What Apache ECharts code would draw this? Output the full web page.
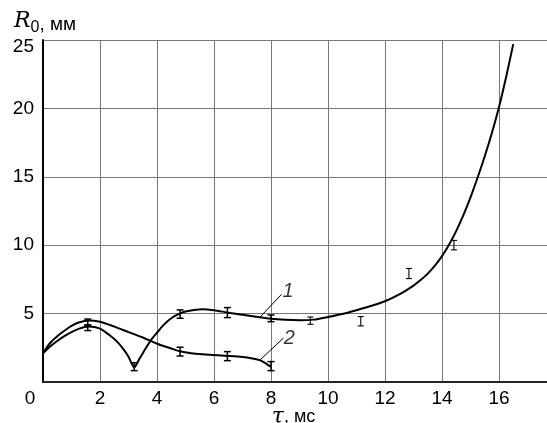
<!DOCTYPE html>
<html><head><meta charset="utf-8">
<script src="https://cdn.jsdelivr.net/npm/echarts@6/dist/echarts.min.js"></script>
<style>html,body{margin:0;padding:0;background:#fff}#c{width:547px;height:423px}</style>
</head><body><div id="c"></div>
<script>
// x ticks (ms) and y ticks (mm)
const xTicks = [0, 2, 4, 6, 8, 10, 12, 14, 16];
const yTicks = [5, 10, 15, 20, 25];
// curve 1 (dips at 3.2 ms, then rises to 25 mm)
const curve1 = [[0,2.1],[0.25,2.6],[0.5,3.0],[0.75,3.35],[1.0,3.65],[1.25,3.88],[1.6,4.05],[2.0,3.9],[2.35,3.4],[2.6,2.95],[2.82,2.4],[3.0,1.85],[3.2,1.07],
 [3.4,1.75],[3.6,2.45],[3.8,3.1],[4.0,3.6],[4.2,4.1],[4.4,4.5],[4.6,4.8],[4.8,5.0],[5.0,5.15],[5.3,5.27],[5.6,5.32],[6.0,5.25],[6.5,5.07],[7.0,4.92],[7.6,4.73],[8.0,4.62],
 [8.5,4.55],[9.0,4.52],[9.5,4.56],[10.0,4.75],[10.5,4.97],[11.0,5.25],[11.5,5.55],[12.0,5.9],[12.5,6.4],[13.0,7.05],[13.25,7.45],[13.5,7.92],[13.75,8.5],[14.0,9.2],
 [14.25,10.05],[14.5,11.05],[14.75,12.2],[15.0,13.5],[15.25,14.95],[15.5,16.5],[15.75,18.2],[16.0,20.1],[16.25,22.3],[16.5,24.7]];
// curve 2
const curve2 = [[0,2.1],[0.25,2.85],[0.5,3.35],[0.75,3.75],[1.0,4.1],[1.25,4.35],[1.6,4.5],[2.0,4.4],[2.5,4.05],[3.0,3.65],[3.5,3.25],[4.0,2.8],[4.5,2.45],[4.8,2.25],
 [5.2,2.1],[5.6,2.02],[6.0,1.97],[6.5,1.9],[7.0,1.82],[7.3,1.74],[7.6,1.6],[7.8,1.38],[8.0,1.1]];
// error bars [x, low, high]
const err1 = [[1.57,3.76,4.17],[3.2,0.83,1.41],[4.81,4.66,5.27],[6.47,4.71,5.44],[8.0,4.41,4.9]];
const err2 = [[1.57,4.17,4.6],[4.81,1.9,2.54],[6.47,1.56,2.22],[8.0,0.83,1.49]];
const err3 = [[9.38,4.22,4.75],[11.15,4.1,4.78],[12.84,7.56,8.3],[14.42,9.66,10.35]];
// curve labels and leader lines
const lead1 = [[7.61,4.73],[8.37,6.41]];
const lead2 = [[7.61,1.6],[8.44,3.22]];
const curveLabels = [[8.6,6.6,'1'],[8.64,3.15,'2']];

const chart = echarts.init(document.getElementById('c'));
function errItem(lw, cap) {
  return function (params, api) {
    const x = api.value(0);
    const lo = api.coord([x, api.value(1)]);
    const hi = api.coord([x, api.value(2)]);
    const st = {stroke: '#000', lineWidth: lw};
    return {type: 'group', children: [
      {type: 'line', shape: {x1: lo[0], y1: lo[1], x2: hi[0], y2: hi[1]}, style: st},
      {type: 'line', shape: {x1: lo[0]-cap, y1: lo[1], x2: lo[0]+cap, y2: lo[1]}, style: st},
      {type: 'line', shape: {x1: hi[0]-cap, y1: hi[1], x2: hi[0]+cap, y2: hi[1]}, style: st}
    ]};
  };
}
const axisFont = {fontFamily: 'Liberation Sans, Arial, sans-serif', fontSize: 19, color: '#000'};
chart.setOption({
  animation: false,
  backgroundColor: '#fff',
  title: {
    left: 9, top: 5,
    text: '{r|R}{s|0}{m|, мм}',
    textStyle: {
      fontWeight: 'normal',
      rich: {
        r: {fontFamily: 'DejaVu Serif', fontStyle: 'italic', fontWeight: 'normal', fontSize: 22, color: '#000', verticalAlign: 'bottom', padding: [0, 0, 4, 0]},
        s: {fontFamily: 'Liberation Sans', fontWeight: 'normal', fontSize: 16, color: '#000', verticalAlign: 'bottom'},
        m: {fontFamily: 'Liberation Sans', fontWeight: 'normal', fontSize: 19, color: '#000', verticalAlign: 'bottom', padding: [0, 0, 2, 0]}
      }
    }
  },
  grid: {left: 43, top: 40, right: -9, bottom: 41, outerBoundsMode: 'none', containLabel: false},
  xAxis: [{
    type: 'value', min: 0, max: 18, interval: 2,
    name: '{t|τ}{s|, мс}', nameLocation: 'middle', nameGap: 26, nameMoveOverlap: false,
    nameTextStyle: {verticalAlign: 'top', lineHeight: 18, padding: [0, 12, 0, 0], rich: {
      t: {fontFamily: 'DejaVu Serif', fontStyle: 'italic', fontSize: 22, color: '#000', lineHeight: 18},
      s: {fontFamily: 'Liberation Sans', fontSize: 18, color: '#000', lineHeight: 18}
    }},
    axisLine: {show: true, onZero: false, lineStyle: {color: '#000', width: 2}},
    axisTick: {show: false},
    splitLine: {show: true, lineStyle: {color: '#777', width: 1}},
    axisLabel: Object.assign({margin: 7, showMaxLabel: false,
      formatter: v => v === 0 ? '{z|0}' : String(v),
      rich: {z: Object.assign({padding: [0, 26, 0, 0]}, axisFont)}}, axisFont)
  }, {
    type: 'value', min: 0, max: 18, position: 'top',
    axisLine: {show: true, lineStyle: {color: '#333', width: 1.5}},
    axisTick: {show: false}, axisLabel: {show: false}, splitLine: {show: false}
  }],
  yAxis: {
    type: 'value', min: 0, max: 25, interval: 5,
    axisLine: {show: true, lineStyle: {color: '#000', width: 2}},
    axisTick: {show: false},
    splitLine: {show: true, lineStyle: {color: '#777', width: 1}},
    axisLabel: Object.assign({margin: 9, showMinLabel: false,
      formatter: v => v === 25 ? '{t|25}' : String(v),
      rich: {t: Object.assign({padding: [14, 0, 0, 0]}, axisFont)}}, axisFont)
  },
  series: [
    {type: 'line', data: curve1, smooth: 0.25, showSymbol: false, lineStyle: {color: '#000', width: 2}},
    {type: 'line', data: curve2, smooth: 0.25, showSymbol: false, lineStyle: {color: '#000', width: 2}},
    {type: 'line', data: lead1, showSymbol: false, lineStyle: {color: '#000', width: 1}},
    {type: 'line', data: lead2, showSymbol: false, lineStyle: {color: '#000', width: 1}},
    {type: 'custom', renderItem: errItem(1.5, 3.5), data: err1, encode: {x: 0, y: [1, 2]}, z: 5},
    {type: 'custom', renderItem: errItem(1.5, 3.5), data: err2, encode: {x: 0, y: [1, 2]}, z: 5},
    {type: 'custom', renderItem: errItem(1.1, 3), data: err3, encode: {x: 0, y: [1, 2]}, z: 5},
    {type: 'scatter', data: curveLabels, symbolSize: 0, itemStyle: {color: '#000'},
      label: {show: true, position: 'inside', formatter: p => p.value[2], textBorderWidth: 0,
        fontFamily: 'Liberation Sans', fontStyle: 'italic', fontSize: 20, color: '#000'}}
  ]
});
</script></body></html>
